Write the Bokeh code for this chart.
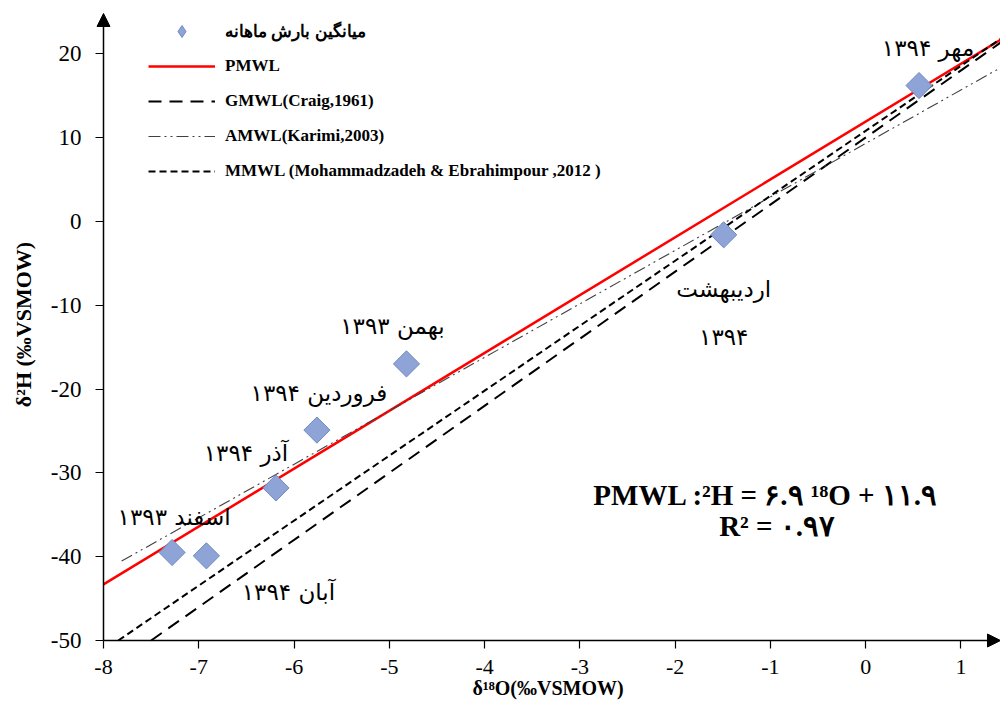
import math
from bokeh.plotting import figure
from bokeh.models import (ColumnDataSource, Range1d, FixedTicker, Arrow, NormalHead,
                          Label, Legend, LegendItem)
from bokeh.core.properties import value
from bokeh.embed import file_html
from bokeh.resources import INLINE

# ---------------- data ----------------
months = ["اسفند ۱۳۹۳", "آبان ۱۳۹۴", "آذر ۱۳۹۴", "فروردین ۱۳۹۴",
          "بهمن ۱۳۹۳", "اردیبهشت ۱۳۹۴", "مهر ۱۳۹۴"]
d18O = [-7.28, -6.92, -6.19, -5.76, -4.82, -1.49, 0.56]
d2H = [-39.5, -39.9, -31.8, -24.9, -17.0, -1.6, 16.2]

line_names = ["PMWL", "GMWL(Craig,1961)", "AMWL(Karimi,2003)",
              "MMWL (Mohammadzadeh & Ebrahimpour ,2012 )"]
line_slopes = [6.9, 8.0, 6.38, 7.75]
line_intercepts = [11.9, 10.0, 9.3, 10.8]
line_x_start = [-8.0, -8.0, -7.81, -8.0]
pmwl_r2 = 0.97

x_ticks = [-8, -7, -6, -5, -4, -3, -2, -1, 0, 1]
y_ticks = [-50, -40, -30, -20, -10, 0, 10, 20]
legend_point_label = "میانگین بارش ماهانه"
x_title = "δ¹⁸O(‰VSMOW)"
y_title = "δ²H (‰VSMOW)"

# ---------------- styles / layout ----------------
AX_X, AX_Y = -8.0, -50.0            # where the two axes cross
X_MIN, X_MAX = -8.084, 1.415        # a little room left/below the axes for arrow heads
Y_MIN, Y_MAX = -50.954, 26.35
Y_ARROW = 24.8
TICK_LEN = 8
line_colors = ["#FF0000", "#000000", "#404040", "#000000"]
line_widths = [2.5, 2.0, 1.1, 2.0]
line_dashes = ["solid", "13 8", "12 4 2 4 2 4", "7 4"]
label_offsets = [(2, -35), (82, 36), (-30, -35), (2, -37), (-14, -38), (0, 54), (9, -38)]
label_wrap = [False, False, False, False, False, True, False]
SERIF = "Liberation Serif"
FA_FONT = "DejaVu Sans"
PT_FILL, PT_LINE = "#8EA4D6", "#7089C2"

FA_DIGITS = str.maketrans("0123456789", "۰۱۲۳۴۵۶۷۸۹")


def fa(num):
    return str(num).translate(FA_DIGITS)


p = figure(width=1000, height=706, output_backend="svg", toolbar_location=None,
           x_range=Range1d(X_MIN, X_MAX), y_range=Range1d(Y_MIN, Y_MAX),
           min_border_left=95, min_border_right=0, min_border_top=0, min_border_bottom=58)
p.outline_line_color = None
p.xgrid.grid_line_color = None
p.ygrid.grid_line_color = None
p.background_fill_color = "white"
p.border_fill_color = "white"

# axes: they sit on the frame edge, ticks point inwards up to the drawn axis lines
p.xaxis.ticker = FixedTicker(ticks=x_ticks)
p.yaxis.ticker = FixedTicker(ticks=y_ticks)
p.xaxis.major_label_overrides = {t: str(t) for t in x_ticks}
p.yaxis.major_label_overrides = {t: str(t) for t in y_ticks}
for ax in (p.xaxis, p.yaxis):
    ax.axis_line_color = None
    ax.major_tick_in = TICK_LEN
    ax.major_tick_out = 0
    ax.major_tick_line_color = "black"
    ax.major_tick_line_width = 1.2
    ax.minor_tick_line_color = None
    ax.major_label_text_font = SERIF
    ax.major_label_text_font_size = "23px"
    ax.major_label_text_color = "black"
    ax.axis_label_text_font = SERIF
    ax.axis_label_text_font_style = "bold"
    ax.axis_label_text_color = "black"
p.xaxis.major_label_text_font_size = "22px"
p.xaxis.major_label_standoff = 11
p.xaxis.axis_label = x_title
p.xaxis.axis_label_standoff = 0
p.xaxis.axis_label_text_font_size = "20px"
p.yaxis.major_label_standoff = 14
p.yaxis.axis_label = y_title
p.yaxis.axis_label_standoff = 12
p.yaxis.axis_label_text_font_size = "22px"

# axis lines with arrow heads
p.add_layout(Arrow(x_start=AX_X, y_start=AX_Y, x_end=AX_X, y_end=Y_ARROW,
                   line_color="black", line_width=1.5,
                   end=NormalHead(size=13, fill_color="black", line_color="black", line_width=1)))
p.add_layout(Arrow(x_start=AX_X, y_start=AX_Y, x_end=X_MAX, y_end=AX_Y,
                   line_color="black", line_width=1.5,
                   end=NormalHead(size=13, fill_color="black", line_color="black", line_width=1)))

# meteoric water lines (start where they enter the axes' quadrant)
line_renderers = []
for name, m, b, xs, c, w, d in zip(line_names, line_slopes, line_intercepts, line_x_start,
                                   line_colors, line_widths, line_dashes):
    x0 = max(xs, (AX_Y - b) / m)
    xx = [x0, X_MAX]
    yy = [m * x0 + b, m * X_MAX + b]
    r = p.line(xx, yy, line_color=c, line_width=w, line_dash=d)
    line_renderers.append(r)

# points
src = ColumnDataSource(dict(x=d18O, y=d2H, name=months))
pts = p.scatter("x", "y", source=src, marker="square", size=18.5, angle=math.pi / 4,
                fill_color=PT_FILL, line_color=PT_LINE, line_width=1)
# legend key (diamond shape, not drawn in the plot area)
pts_key = p.scatter("x", "y", source=src, marker="diamond", size=18,
                    fill_color=PT_FILL, line_color=PT_LINE, line_width=1, visible=False)

# point labels
lx, ly, lt, ldx, ldy = [], [], [], [], []
for xv, yv, name, (dx, dy), wrap in zip(d18O, d2H, months, label_offsets, label_wrap):
    parts = name.split(" ") if wrap else [name]
    for k, part in enumerate(parts):
        lx.append(xv)
        ly.append(yv)
        lt.append(part)
        ldx.append(dx)
        ldy.append(dy + 48 * k)
lsrc = ColumnDataSource(dict(x=lx, y=ly, t=lt, dx=ldx, dy=ldy))
p.text("x", "y", text="t", source=lsrc, x_offset="dx", y_offset="dy",
       text_align="center", text_baseline="middle", text_color="black",
       text_font=value(FA_FONT), text_font_size="23px")

# equation
eq1 = "PMWL :²H = " + fa(line_slopes[0]) + " ¹⁸O  +  " + fa(line_intercepts[0])
eq2 = "R² = " + fa(pmwl_r2)
p.add_layout(Label(x=-0.97, y=-32.6, text=eq1, text_align="center", text_baseline="middle",
                   text_font=SERIF, text_font_style="bold", text_font_size="29px",
                   text_color="black"))
p.add_layout(Label(x=-0.93, y=-36.3, text=eq2, text_align="center", text_baseline="middle",
                   text_font=SERIF, text_font_style="bold", text_font_size="29px",
                   text_color="black"))

# legend
items = [LegendItem(label=legend_point_label, renderers=[pts_key])]
for name, r in zip(line_names, line_renderers):
    items.append(LegendItem(label=name, renderers=[r]))
legend = Legend(items=items, location=(53, 462), orientation="vertical",
                glyph_width=67, glyph_height=30, label_height=30, spacing=5,
                label_standoff=10, padding=0, margin=0,
                border_line_color=None, background_fill_alpha=0,
                label_text_font=SERIF, label_text_font_style="bold",
                label_text_font_size="17px", label_text_color="black",
                label_text_baseline="middle")
p.add_layout(legend, "center")

open("out.html", "w").write(file_html(p, INLINE))
